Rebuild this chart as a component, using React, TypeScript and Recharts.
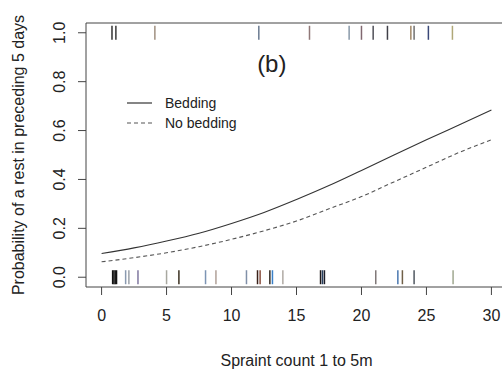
import React from "react";
import {
  ComposedChart,
  Line,
  Scatter,
  XAxis,
  YAxis,
  ReferenceArea,
  ReferenceDot,
} from "recharts";

// fitted curves, every 2.5 sprints
const curveX = [0, 2.5, 5, 7.5, 10, 12.5, 15, 17.5, 20, 22.5, 25, 27.5, 30];
const bedding = [0.097, 0.12, 0.148, 0.18, 0.22, 0.265, 0.318, 0.375, 0.437, 0.5, 0.562, 0.623, 0.684];
const noBedding = [0.063, 0.08, 0.1, 0.125, 0.155, 0.19, 0.23, 0.28, 0.33, 0.39, 0.45, 0.51, 0.562];

// observed sprint counts: rest (top rug, y = 1) and no rest (bottom rug, y = 0)
const restCounts = [0.8, 1.1, 4.1, 12.1, 16.0, 19.05, 20.0, 20.9, 22.0, 23.8, 24.05, 25.15, 27.0];
const noRestCounts = [
  0.85, 0.95, 1.05, 1.15, 1.85, 2.1, 2.8, 5.0, 5.95, 8.0, 8.8, 11.15, 12.0, 12.2,
  12.95, 13.15, 13.95, 16.85, 17.0, 17.15, 21.1, 22.8, 23.15, 24.05, 27.05,
];

const xTicks = [0, 5, 10, 15, 20, 25, 30];
const yTicks = [0, 0.2, 0.4, 0.6, 0.8, 1.0];

// rug colours (style only)
const restColors = [
  "#333", "#3a3a3a", "#a09080", "#6a7a90", "#907878", "#8898a8", "#806870",
  "#505058", "#404048", "#a08868", "#707070", "#3a4878", "#b0a878",
];
const noRestColors = [
  "#111", "#151515", "#1a1a1a", "#111", "#8a9ab0", "#9aa0a8", "#8078a0", "#a8a8a0",
  "#3a3020", "#7c94b4", "#b0a098", "#8090a8", "#3a2018", "#8a5040", "#302820",
  "#3a80c8", "#b0aaa4", "#201818", "#284060", "#1c1c28", "#807878", "#4a78b0",
  "#706048", "#505860", "#a0a890",
];

const FONT = "'Liberation Sans', Arial, sans-serif";
const INK = "#222";

const beddingData = curveX.map((x, i) => ({ x, y: bedding[i] }));
const noBeddingData = curveX.map((x, i) => ({ x, y: noBedding[i] }));
const restData = restCounts.map((x, i) => ({ x, y: 1, color: restColors[i] }));
const noRestData = noRestCounts.map((x, i) => ({ x, y: 0, color: noRestColors[i] }));

const RugMark = (props: any) => {
  const { cx, cy, payload } = props;
  if (cx == null || cy == null) return null;
  return <line x1={cx} x2={cx} y1={cy - 7} y2={cy + 7} stroke={payload.color} strokeWidth={1.5} />;
};

const YTick = (props: any) => {
  const { x, y, payload } = props;
  const cx = x - 16;
  return (
    <text
      x={cx}
      y={y}
      transform={`rotate(-90 ${cx} ${y})`}
      textAnchor="middle"
      dominantBaseline="central"
      fill={INK}
      fontSize={16}
      fontFamily={FONT}
    >
      {Number(payload.value).toFixed(1)}
    </text>
  );
};

const YTitle = (props: any) => {
  const vb = props.viewBox || { y: 23, height: 264 };
  const cy = vb.y + vb.height / 2;
  const cx = 18;
  return (
    <text
      x={cx}
      y={cy}
      transform={`rotate(-90 ${cx} ${cy})`}
      textAnchor="middle"
      dominantBaseline="central"
      fill={INK}
      fontSize={16}
      fontFamily={FONT}
    >
      Probability of a rest in preceding 5 days
    </text>
  );
};

function LegendBox() {
  const row = (dash: string | undefined, label: string) => (
    <div style={{ display: "flex", alignItems: "center", height: 20 }}>
      <svg width={40} height={20} style={{ display: "block" }}>
        <line x1={2} x2={27} y1={10} y2={10} stroke={dash ? "#555" : "#333"} strokeWidth={1.2} strokeDasharray={dash} />
      </svg>
      <span>{label}</span>
    </div>
  );
  return (
    <div
      style={{
        position: "absolute",
        left: 125,
        top: 93,
        fontFamily: FONT,
        fontSize: 14,
        color: INK,
        lineHeight: "20px",
      }}
    >
      {row(undefined, "Bedding")}
      {row("4 3", "No bedding")}
    </div>
  );
}

export default function App() {
  return (
    <div style={{ position: "relative", width: 502, height: 372, overflow: "hidden", background: "#fff" }}>
      <style>{"body{margin:0}"}</style>
      <ComposedChart width={520} height={372} margin={{ top: 23, right: 13, bottom: 0, left: 0 }}>
        <XAxis
          dataKey="x"
          type="number"
          domain={[-1.2, 31.2]}
          ticks={xTicks}
          allowDataOverflow
          axisLine={false}
          tickLine={{ stroke: "#444" }}
          tickSize={8}
          tickMargin={15}
          height={85}
          tick={{ fill: INK, fontSize: 16, fontFamily: FONT }}
          label={{
            value: "Spraint count 1 to 5m",
            position: "insideBottom",
            offset: 6,
            fill: INK,
            fontSize: 16,
            fontFamily: FONT,
          }}
        />
        <YAxis
          dataKey="y"
          type="number"
          domain={[-0.04, 1.04]}
          ticks={yTicks}
          allowDataOverflow
          width={86}
          axisLine={false}
          tickLine={{ stroke: "#444" }}
          tickSize={8}
          tick={<YTick />}
          label={<YTitle />}
        />
        <Line
          data={beddingData}
          dataKey="y"
          type="monotone"
          stroke="#333"
          strokeWidth={1.1}
          dot={false}
          activeDot={false}
          isAnimationActive={false}
        />
        <Line
          data={noBeddingData}
          dataKey="y"
          type="monotone"
          stroke="#555"
          strokeWidth={1.1}
          strokeDasharray="4 3"
          dot={false}
          activeDot={false}
          isAnimationActive={false}
        />
        <Scatter data={restData} dataKey="y" shape={<RugMark />} isAnimationActive={false} />
        <Scatter data={noRestData} dataKey="y" shape={<RugMark />} isAnimationActive={false} />
        <ReferenceArea
          x1={-1.2}
          x2={31.2}
          y1={-0.04}
          y2={1.04}
          fill="none"
          fillOpacity={0}
          stroke="#444"
          strokeWidth={1}
          ifOverflow="visible"
        />
        <ReferenceDot
          x={13.1}
          y={0.875}
          r={0}
          fill="none"
          stroke="none"
          ifOverflow="visible"
          label={{ value: "(b)", position: "center", fill: INK, fontSize: 24, fontFamily: FONT }}
        />
      </ComposedChart>
      <LegendBox />
    </div>
  );
}
